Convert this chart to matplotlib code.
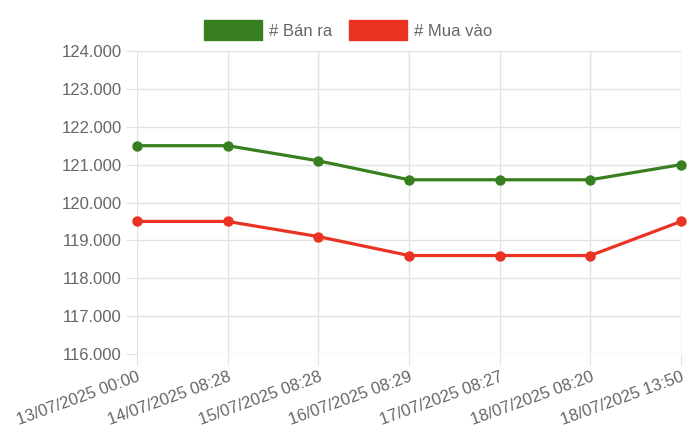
import matplotlib.pyplot as plt
from matplotlib.ticker import FuncFormatter

# data
labels = ["13/07/2025 00:00", "14/07/2025 08:28", "15/07/2025 08:28", "16/07/2025 08:29",
          "17/07/2025 08:27", "18/07/2025 08:20", "18/07/2025 13:50"]
ban_ra = [121500, 121500, 121100, 120600, 120600, 120600, 121000]
mua_vao = [119500, 119500, 119100, 118600, 118600, 118600, 119500]
series_names = ["# Bán ra", "# Mua vào"]

green = "#38801f"
red = "#ea3323"
text_col = "#666666"
grid_col = "#e2e2e2"

plt.rcParams["font.family"] = ["Liberation Sans", "DejaVu Sans"]

fig = plt.figure(figsize=(7, 4.4), dpi=100)
ax = fig.add_axes([137 / 700, 1 - 354 / 440, (681 - 137) / 700, (354 - 51) / 440])

x = list(range(len(labels)))
ax.plot(x, ban_ra, color=green, lw=2.3, marker="o", ms=6.5, label=series_names[0],
        solid_joinstyle="round", zorder=3, clip_on=False)
ax.plot(x, mua_vao, color=red, lw=2.3, marker="o", ms=6.5, label=series_names[1],
        solid_joinstyle="round", zorder=3, clip_on=False)

ax.set_xlim(0, len(labels) - 1)
ax.set_ylim(116000, 124000)
ax.set_yticks(range(116000, 124001, 1000))
ax.yaxis.set_major_formatter(FuncFormatter(lambda v, p: f"{v:,.0f}".replace(",", ".")))
ax.set_xticks(x)
ax.set_xticklabels(labels, rotation=20, ha="right", rotation_mode="anchor")

ax.grid(True, color=grid_col, lw=1)
ax.set_axisbelow(True)
for s in ax.spines.values():
    s.set_visible(False)
ax.tick_params(axis="both", length=8, color=grid_col, labelcolor=text_col, labelsize=12, pad=3)

# legend drawn as boxes at the top
leg = fig.legend(handles=[plt.Rectangle((0, 0), 1, 1, fc=green, ec=green),
                          plt.Rectangle((0, 0), 1, 1, fc=red, ec=red)],
                 labels=series_names, loc="center", bbox_to_anchor=(0.497, 1 - 30 / 440),
                 ncol=2, frameon=False, fontsize=12, handlelength=3.5, handleheight=1.4,
                 handletextpad=0.4, columnspacing=1.0, labelcolor=text_col)

fig.savefig("out.png", dpi=100)
